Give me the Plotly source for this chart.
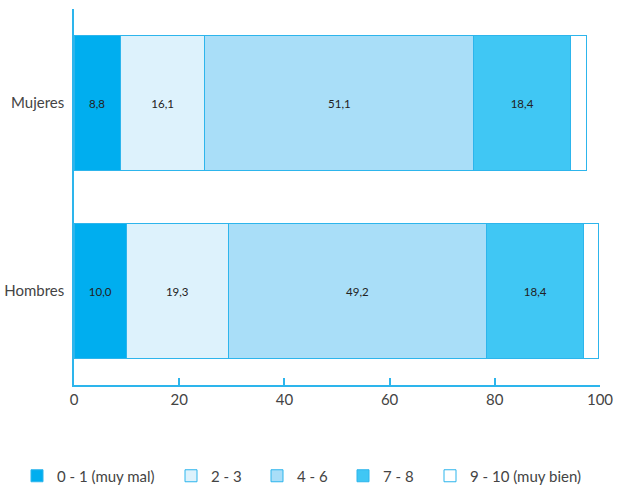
import plotly.graph_objects as go

categories = ["Hombres", "Mujeres"]
series_names = ["0 - 1 (muy mal)", "2 - 3", "4 - 6", "7 - 8", "9 - 10 (muy bien)"]
v_0_1 = [10.0, 8.8]
v_2_3 = [19.3, 16.1]
v_4_6 = [49.2, 51.1]
v_7_8 = [18.4, 18.4]
v_9_10 = [2.8, 3.0]
show_labels = [True, True, True, True, False]
x_ticks = [0, 20, 40, 60, 80, 100]

colors = ["#00AEEF", "#DDF2FC", "#A9DEF8", "#40C7F4", "#FFFFFF"]
line_color = "#2DB5EC"
font_family = "Lato, 'DejaVu Sans', sans-serif"
legend_left_px = [17, 171, 257, 343, 430]

fig = go.Figure()
legend_layouts = {}
for i, (name, vals, col, lab) in enumerate(zip(series_names, [v_0_1, v_2_3, v_4_6, v_7_8, v_9_10], colors, show_labels)):
    lname = "legend" if i == 0 else f"legend{i + 1}"
    fig.add_trace(go.Bar(
        y=categories, x=vals, name=name, orientation="h",
        marker=dict(color=col, line=dict(color=line_color, width=1)),
        text=[f"{v:.1f}".replace(".", ",") for v in vals] if lab else None,
        textposition="inside" if lab else "none",
        insidetextanchor="middle",
        textangle=0,
        textfont=dict(size=11.5, color="#222222", family=font_family),
        hoverinfo="x+name",
        legend=lname,
    ))
    legend_layouts[lname] = dict(
        orientation="h",
        xref="container", yref="container",
        x=legend_left_px[i] / 617, xanchor="left",
        y=(486 - 476) / 486, yanchor="middle",
        font=dict(size=15, color="#444444", family=font_family),
        bgcolor="rgba(0,0,0,0)",
        itemwidth=30,
    )

fig.update_layout(
    barmode="stack",
    bargap=0.28,
    width=617, height=486,
    margin=dict(l=74, r=17, t=9, b=101, autoexpand=False),
    paper_bgcolor="white", plot_bgcolor="white",
    font=dict(family=font_family, color="#444444", size=14),
    showlegend=True,
    xaxis=dict(
        range=[0, 100], tickvals=x_ticks, ticktext=[str(t) for t in x_ticks],
        showgrid=False, zeroline=False, automargin=False,
        showline=True, linecolor=line_color, linewidth=1.5,
        ticks="inside", ticklen=7, tickcolor=line_color, tickwidth=1.5,
        tickfont=dict(size=15, color="#444444"),
    ),
    yaxis=dict(
        categoryorder="array", categoryarray=categories,
        range=[-0.5, 1.5], automargin=False,
        showgrid=False, zeroline=False,
        showline=True, linecolor=line_color, linewidth=1.5,
        ticks="", ticklabelstandoff=5,
        tickfont=dict(size=15, color="#444444"),
    ),
    **legend_layouts,
)

fig.write_html(
    "out.html",
    config={"displayModeBar": False},
    post_script="document.body.style.margin='0';document.body.style.overflow='hidden';",
)
